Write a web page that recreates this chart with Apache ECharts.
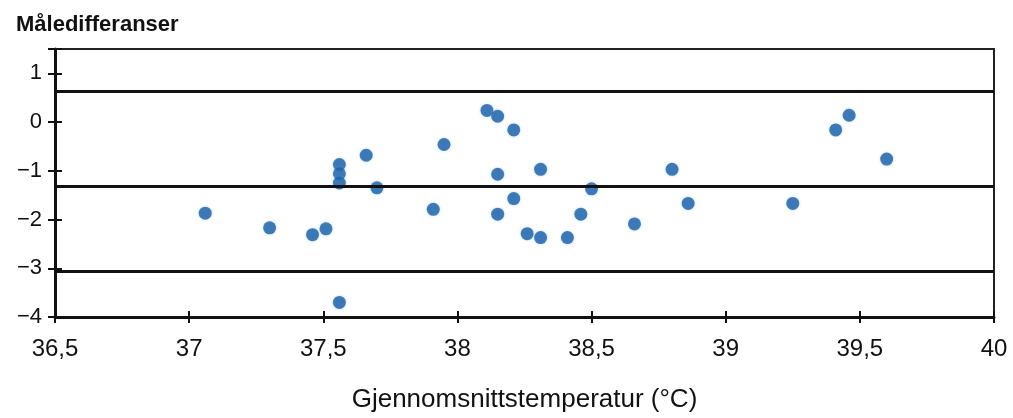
<!DOCTYPE html>
<html>
<head>
<meta charset="utf-8">
<script src="https://cdn.jsdelivr.net/npm/echarts@6/dist/echarts.min.js"></script>
<style>
  html, body { margin: 0; padding: 0; background: #fff; }
  #chart { width: 1013px; height: 418px; }
</style>
</head>
<body>
<div id="chart"></div>
<script>
// temperatur (x) og målediff (y)
const temps = [37.06, 37.30, 37.46, 37.51, 37.56, 37.56, 37.56, 37.56, 37.66, 37.70,
  37.91, 37.95, 38.11, 38.15, 38.21, 38.15, 38.15, 38.21, 38.26, 38.31,
  38.31, 38.41, 38.46, 38.50, 38.66, 38.80, 38.86, 39.25, 39.41, 39.46, 39.60]
const diffs = [-1.87, -2.17, -2.31, -2.19, -3.70, -0.87, -1.06, -1.25, -0.68, -1.35,
  -1.79, -0.46, 0.24, 0.12, -0.16, -1.07, -1.89, -1.57, -2.29, -2.37,
  -0.97, -2.37, -1.89, -1.37, -2.09, -0.97, -1.67, -1.67, -0.16, 0.14, -0.76]
// øvre grense, middel, nedre grense
const refLines = [0.63, -1.31, -3.06]

const xTicks = { min: 36.5, max: 40, step: 0.5 }
const yTicks = { min: -4, max: 1.5, step: 1 }

const font = '"Liberation Sans", Arial, sans-serif'

let points = temps.map((t, i) => [t, diffs[i]])

let chart = echarts.init(document.getElementById('chart'))
chart.setOption({
  animation: false,
  title: {
    text: 'Måledifferanser',
    left: 11,
    top: 9,
    textStyle: { fontFamily: font, fontSize: 22, fontWeight: 'bold', color: '#111' }
  },
  grid: {
    left: 55, right: 19, top: 49, bottom: 94,
    show: true, borderColor: '#222', borderWidth: 2
  },
  xAxis: [{
    type: 'value',
    min: xTicks.min, max: xTicks.max, interval: xTicks.step,
    name: 'Gjennomsnittstemperatur (°C)',
    nameLocation: 'middle',
    nameGap: 70,
    nameTextStyle: { fontFamily: font, fontSize: 26, color: '#111' },
    axisLine: { onZero: false, lineStyle: { color: '#111', width: 3 } },
    axisTick: { length: 6, lineStyle: { color: '#111', width: 2 } },
    axisLabel: {
      margin: 20, fontFamily: font, fontSize: 24, color: '#111',
      formatter: v => String(v).replace('.', ',')
    },
    splitLine: { show: false }
  }, {
    type: 'value', position: 'bottom',
    min: xTicks.min, max: xTicks.max, interval: xTicks.step,
    axisLine: { show: false, onZero: false },
    axisTick: { inside: true, length: 6, lineStyle: { color: '#111', width: 2 } },
    axisLabel: { show: false },
    splitLine: { show: false }
  }],
  yAxis: [{
    type: 'value',
    min: yTicks.min, max: yTicks.max, interval: yTicks.step,
    axisLine: { show: true, onZero: false, lineStyle: { color: '#111', width: 3 } },
    axisTick: { show: true, length: 7, lineStyle: { color: '#111', width: 2 } },
    axisLabel: {
      margin: 13, fontFamily: font, fontSize: 22, color: '#111',
      formatter: v => Number.isInteger(v) ? String(v).replace('-', '−') : ''
    },
    splitLine: { show: false }
  }, {
    type: 'value', position: 'left',
    min: yTicks.min, max: yTicks.max, interval: yTicks.step,
    axisLine: { show: false, onZero: false },
    axisTick: { show: true, inside: true, length: 7, lineStyle: { color: '#111', width: 2 } },
    axisLabel: { show: false },
    splitLine: { show: false }
  }],
  series: [{
    type: 'scatter',
    data: points,
    symbolSize: 13,
    itemStyle: {
      color: '#1b5fa6',
      shadowColor: 'rgba(90,170,240,0.5)',
      shadowBlur: 3
    },
    markLine: {
      silent: true,
      symbol: 'none',
      label: { show: false },
      lineStyle: { color: '#111', width: 3, type: 'solid' },
      data: refLines.map(v => ({ yAxis: v }))
    },
    z: 3
  }]
})
</script>
</body>
</html>
